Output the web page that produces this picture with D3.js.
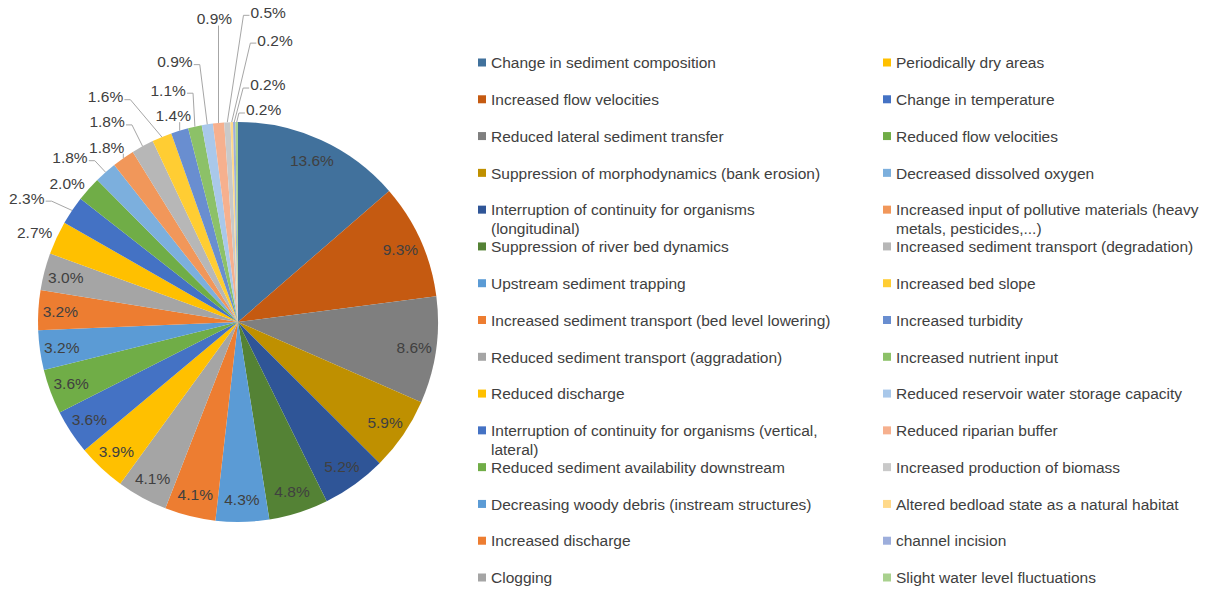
<!DOCTYPE html>
<html>
<head>
<meta charset="utf-8">
<script src="https://cdn.jsdelivr.net/npm/d3@7"></script>
<style>
  html, body { margin: 0; padding: 0; background: #fff; }
  svg { display: block; }
  text { font-family: "Liberation Sans", Arial, sans-serif; fill: #404040; }
</style>
</head>
<body>
<svg id="chart" width="1213" height="589"></svg>
<script>
// Reported impacts, share of all mentions (%)
const categories = [
  "Change in sediment composition",
  "Increased flow velocities",
  "Reduced lateral sediment transfer",
  "Suppression of morphodynamics (bank erosion)",
  "Interruption of continuity for organisms (longitudinal)",
  "Suppression of river bed dynamics",
  "Upstream sediment trapping",
  "Increased sediment transport (bed level lowering)",
  "Reduced sediment transport (aggradation)",
  "Reduced discharge",
  "Interruption of continuity for organisms (vertical, lateral)",
  "Reduced sediment availability downstream",
  "Decreasing woody debris (instream structures)",
  "Increased discharge",
  "Clogging",
  "Periodically dry areas",
  "Change in temperature",
  "Reduced flow velocities",
  "Decreased dissolved oxygen",
  "Increased input of pollutive materials (heavy metals, pesticides,...)",
  "Increased sediment transport (degradation)",
  "Increased bed slope",
  "Increased turbidity",
  "Increased nutrient input",
  "Reduced reservoir water storage capacity",
  "Reduced riparian buffer",
  "Increased production of biomass",
  "Altered bedload state as a natural habitat",
  "channel incision",
  "Slight water level fluctuations"
];

const shares = [
  13.6, 9.3, 8.6, 5.9, 5.2, 4.8, 4.3, 4.1, 4.1, 3.9,
  3.6, 3.6, 3.2, 3.2, 3.0, 2.7, 2.3, 2.0, 1.8, 1.8,
  1.8, 1.6, 1.4, 1.1, 0.9, 0.9, 0.5, 0.2, 0.2, 0.2
];

const sliceColors = [
  "#41719c", "#c55a11", "#7f7f7f", "#bf9000", "#2f5597", "#548235",
  "#5b9bd5", "#ed7d31", "#a5a5a5", "#ffc000", "#4472c4", "#70ad47",
  "#5b9bd5", "#ed7d31", "#a5a5a5", "#ffc000", "#4472c4", "#70ad47",
  "#7cafdd", "#f1975a", "#b7b7b7", "#ffcd33", "#698ed0", "#8cc168",
  "#a9c8ea", "#f6b08e", "#c9c9c9", "#ffd98a", "#9daedc", "#a9d18e"
];

// Hand nudges [dx, dy] for the crowded labels outside the pie,
// applied to the default anchor just beyond each slice's rim.
const outsideLabelNudges = {
  15: [-2, 4],  16: [-27, 0],  17: [-5, 9],   18: [-21, 2],
  19: [-4, 7],  20: [-25, -5], 21: [-48, -20], 22: [0, 6],
  23: [-22, -15], 24: [-29, -41], 25: [-2, -82], 26: [42, -88],
  27: [44, -60], 28: [34, -15], 29: [27, 10]
};

const svg = d3.select("#chart");
const cx = 238, cy = 322, R = 200;
const fontSize = 15.5;

const data = categories.map((name, i) => ({ name, value: shares[i], i }));

const pie = d3.pie().sort(null).value(d => d.value).startAngle(0).endAngle(2 * Math.PI);
const arcs = pie(data);

const arc = d3.arc().innerRadius(0).outerRadius(R);
const insideRing = d3.arc().innerRadius(R * 0.89).outerRadius(R * 0.89);
const outsideRing = d3.arc().innerRadius(R + 22).outerRadius(R + 22);
const rimRing = d3.arc().innerRadius(R).outerRadius(R);

const color = d3.scaleOrdinal().domain(d3.range(categories.length)).range(sliceColors);

const g = svg.append("g").attr("transform", `translate(${cx},${cy})`);

// slices
g.selectAll("path.slice")
  .data(arcs)
  .join("path")
  .attr("class", "slice")
  .attr("d", arc)
  .attr("fill", d => color(d.data.i));

const fmt = v => v.toFixed(1) + "%";
const isOutside = d => d.data.value < 2.85;

// labels inside the large slices
g.selectAll("text.in")
  .data(arcs.filter(d => !isOutside(d)))
  .join("text")
  .attr("class", "in")
  .attr("transform", d => `translate(${insideRing.centroid(d)})`)
  .attr("text-anchor", "middle")
  .attr("dy", "0.35em")
  .style("font-size", fontSize + "px")
  .text(d => fmt(d.data.value));

// labels outside the small slices, with leader lines where they drift away
const outside = arcs.filter(isOutside).map(d => {
  const [ax, ay] = outsideRing.centroid(d);
  const [nx, ny] = outsideLabelNudges[d.data.i] || [0, 0];
  const [ex, ey] = rimRing.centroid(d);
  return { d, x: ax + nx, y: ay + ny, ex, ey };
});

const leaderLayer = g.append("g");
const outLabels = g.selectAll("text.out")
  .data(outside)
  .join("text")
  .attr("class", "out")
  .attr("x", o => o.x)
  .attr("y", o => o.y)
  .attr("text-anchor", "middle")
  .attr("dy", "0.35em")
  .style("font-size", fontSize + "px")
  .text(o => fmt(o.d.data.value));

const line = d3.line();
outLabels.each(function (o) {
  const bb = this.getBBox();
  const left = bb.x, right = bb.x + bb.width;
  const bottom = o.y + fontSize * 0.42;
  let pts = null;
  if (o.ex >= left && o.ex <= right) {
    if (o.ey - bottom > 4) pts = [[o.ex, bottom], [o.ex, o.ey]];
  } else if (Math.hypot(o.x - o.ex, o.y - o.ey) > 28) {
    const sy = o.y + 3;
    if (o.ex > right) pts = [[right + 1, sy], [right + 7, sy], [o.ex, o.ey]];
    else pts = [[left - 1, sy], [left - 7, sy], [o.ex, o.ey]];
  }
  if (pts) {
    leaderLayer.append("path")
      .attr("d", line(pts))
      .attr("fill", "none")
      .attr("stroke", "#a6a6a6")
      .attr("stroke-width", 1);
  }
});

// legend: two columns, filled top to bottom
const perColumn = 15;
const rowY = d3.scalePoint().domain(d3.range(perColumn)).range([62.5, 577.5]);
const colX = d3.scaleOrdinal().domain([0, 1]).range([478, 883]);
const colWrap = [355, 318];
const lineHeight = 19;

const legend = svg.append("g");
const items = legend.selectAll("g.item")
  .data(data)
  .join("g")
  .attr("class", "item")
  .attr("transform", d => {
    const col = Math.floor(d.i / perColumn);
    return `translate(${colX(col)},${rowY(d.i % perColumn)})`;
  });

items.append("rect")
  .attr("x", 0)
  .attr("y", -4)
  .attr("width", 8)
  .attr("height", 8)
  .attr("fill", d => color(d.i));

items.append("text")
  .attr("x", 13)
  .attr("y", 0)
  .style("font-size", fontSize + "px")
  .each(function (d) {
    const maxW = colWrap[Math.floor(d.i / perColumn)];
    const el = d3.select(this);
    const words = d.name.split(" ");
    let lineWords = [];
    let tspan = el.append("tspan").attr("x", 13).attr("dy", "0.37em");
    words.forEach(w => {
      lineWords.push(w);
      tspan.text(lineWords.join(" "));
      if (tspan.node().getComputedTextLength() > maxW && lineWords.length > 1) {
        lineWords.pop();
        tspan.text(lineWords.join(" "));
        lineWords = [w];
        tspan = el.append("tspan").attr("x", 13).attr("dy", lineHeight).text(w);
      }
    });
  });
</script>
</body>
</html>
